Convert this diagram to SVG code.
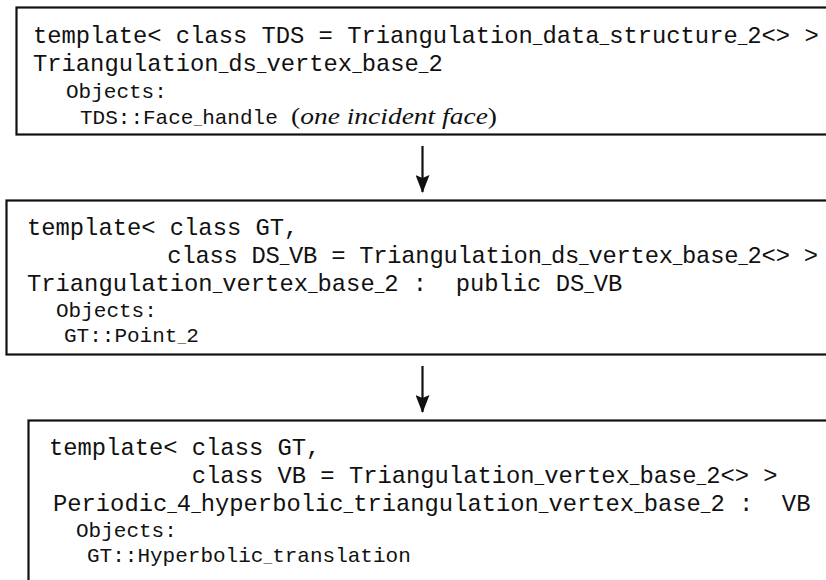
<svg xmlns="http://www.w3.org/2000/svg" width="826" height="580" viewBox="0 0 826 580">
<style>
.box{fill:#fff;stroke:#111;stroke-width:2.2}
.tt{font-family:"Liberation Mono","DejaVu Sans Mono",monospace;font-size:23.8px;fill:#111;white-space:pre}
.sm{font-family:"Liberation Mono","DejaVu Sans Mono",monospace;font-size:21px;fill:#111;white-space:pre}
.u{font-size:16px}
.us{font-size:14.5px}
.it{font-family:"Liberation Serif",serif;font-style:italic;font-size:24px;fill:#111}
.up{font-style:normal}
.con{stroke:#111;stroke-width:2.2;fill:none}
</style>
<defs>
<marker id="ah" viewBox="0 0 18 14" refX="17" refY="7" markerWidth="18" markerHeight="14" markerUnits="userSpaceOnUse" orient="auto">
<path d="M0,0 L18,7 L0,14 L3,7 Z" fill="#111"/>
</marker>
</defs>
<rect width="826" height="580" fill="#fff"/>
<g id="node-ds-vertex-base">
<rect class="box" x="16.5" y="7.5" width="830" height="127"/>
<text class="tt" x="33" y="43" xml:space="preserve">template&lt; class TDS = Triangulation<tspan class="u">_</tspan>data<tspan class="u">_</tspan>structure<tspan class="u">_</tspan>2&lt;&gt; &gt;</text>
<text class="tt" x="33" y="71">Triangulation<tspan class="u">_</tspan>ds<tspan class="u">_</tspan>vertex<tspan class="u">_</tspan>base<tspan class="u">_</tspan>2</text>
<text class="sm" x="66" y="98">Objects:</text>
<text class="sm" x="80" y="124">TDS::Face<tspan class="us">_</tspan>handle</text>
<text class="it" x="291" y="124" textLength="206" lengthAdjust="spacingAndGlyphs"><tspan class="up">(</tspan>one incident face<tspan class="up">)</tspan></text>
</g>
<g id="node-vertex-base">
<rect class="box" x="6.5" y="200.5" width="830" height="154"/>
<text class="tt" x="27" y="235" xml:space="preserve">template&lt; class GT,</text>
<text class="tt" x="27" y="263" xml:space="preserve" textLength="791" lengthAdjust="spacing">          class DS<tspan class="u">_</tspan>VB = Triangulation<tspan class="u">_</tspan>ds<tspan class="u">_</tspan>vertex<tspan class="u">_</tspan>base<tspan class="u">_</tspan>2&lt;&gt; &gt;</text>
<text class="tt" x="27" y="291" xml:space="preserve">Triangulation<tspan class="u">_</tspan>vertex<tspan class="u">_</tspan>base<tspan class="u">_</tspan>2 :  public DS<tspan class="u">_</tspan>VB</text>
<text class="sm" x="56" y="317">Objects:</text>
<text class="sm" x="64" y="342">GT::Point<tspan class="us">_</tspan>2</text>
</g>
<g id="node-hyperbolic-vertex-base">
<rect class="box" x="28.5" y="420.5" width="830" height="200"/>
<text class="tt" x="49" y="455" xml:space="preserve">template&lt; class GT,</text>
<text class="tt" x="49" y="483" xml:space="preserve">          class VB = Triangulation<tspan class="u">_</tspan>vertex<tspan class="u">_</tspan>base<tspan class="u">_</tspan>2&lt;&gt; &gt;</text>
<text class="tt" x="53" y="511" xml:space="preserve">Periodic<tspan class="u">_</tspan>4<tspan class="u">_</tspan>hyperbolic<tspan class="u">_</tspan>triangulation<tspan class="u">_</tspan>vertex<tspan class="u">_</tspan>base<tspan class="u">_</tspan>2 :  VB</text>
<text class="sm" x="76" y="537">Objects:</text>
<text class="sm" x="87" y="562">GT::Hyperbolic<tspan class="us">_</tspan>translation</text>
</g>
<g id="connectors">
<line class="con" x1="422.5" y1="146" x2="422.5" y2="192" marker-end="url(#ah)"/>
<line class="con" x1="422.5" y1="366" x2="422.5" y2="412" marker-end="url(#ah)"/>
</g>
</svg>
